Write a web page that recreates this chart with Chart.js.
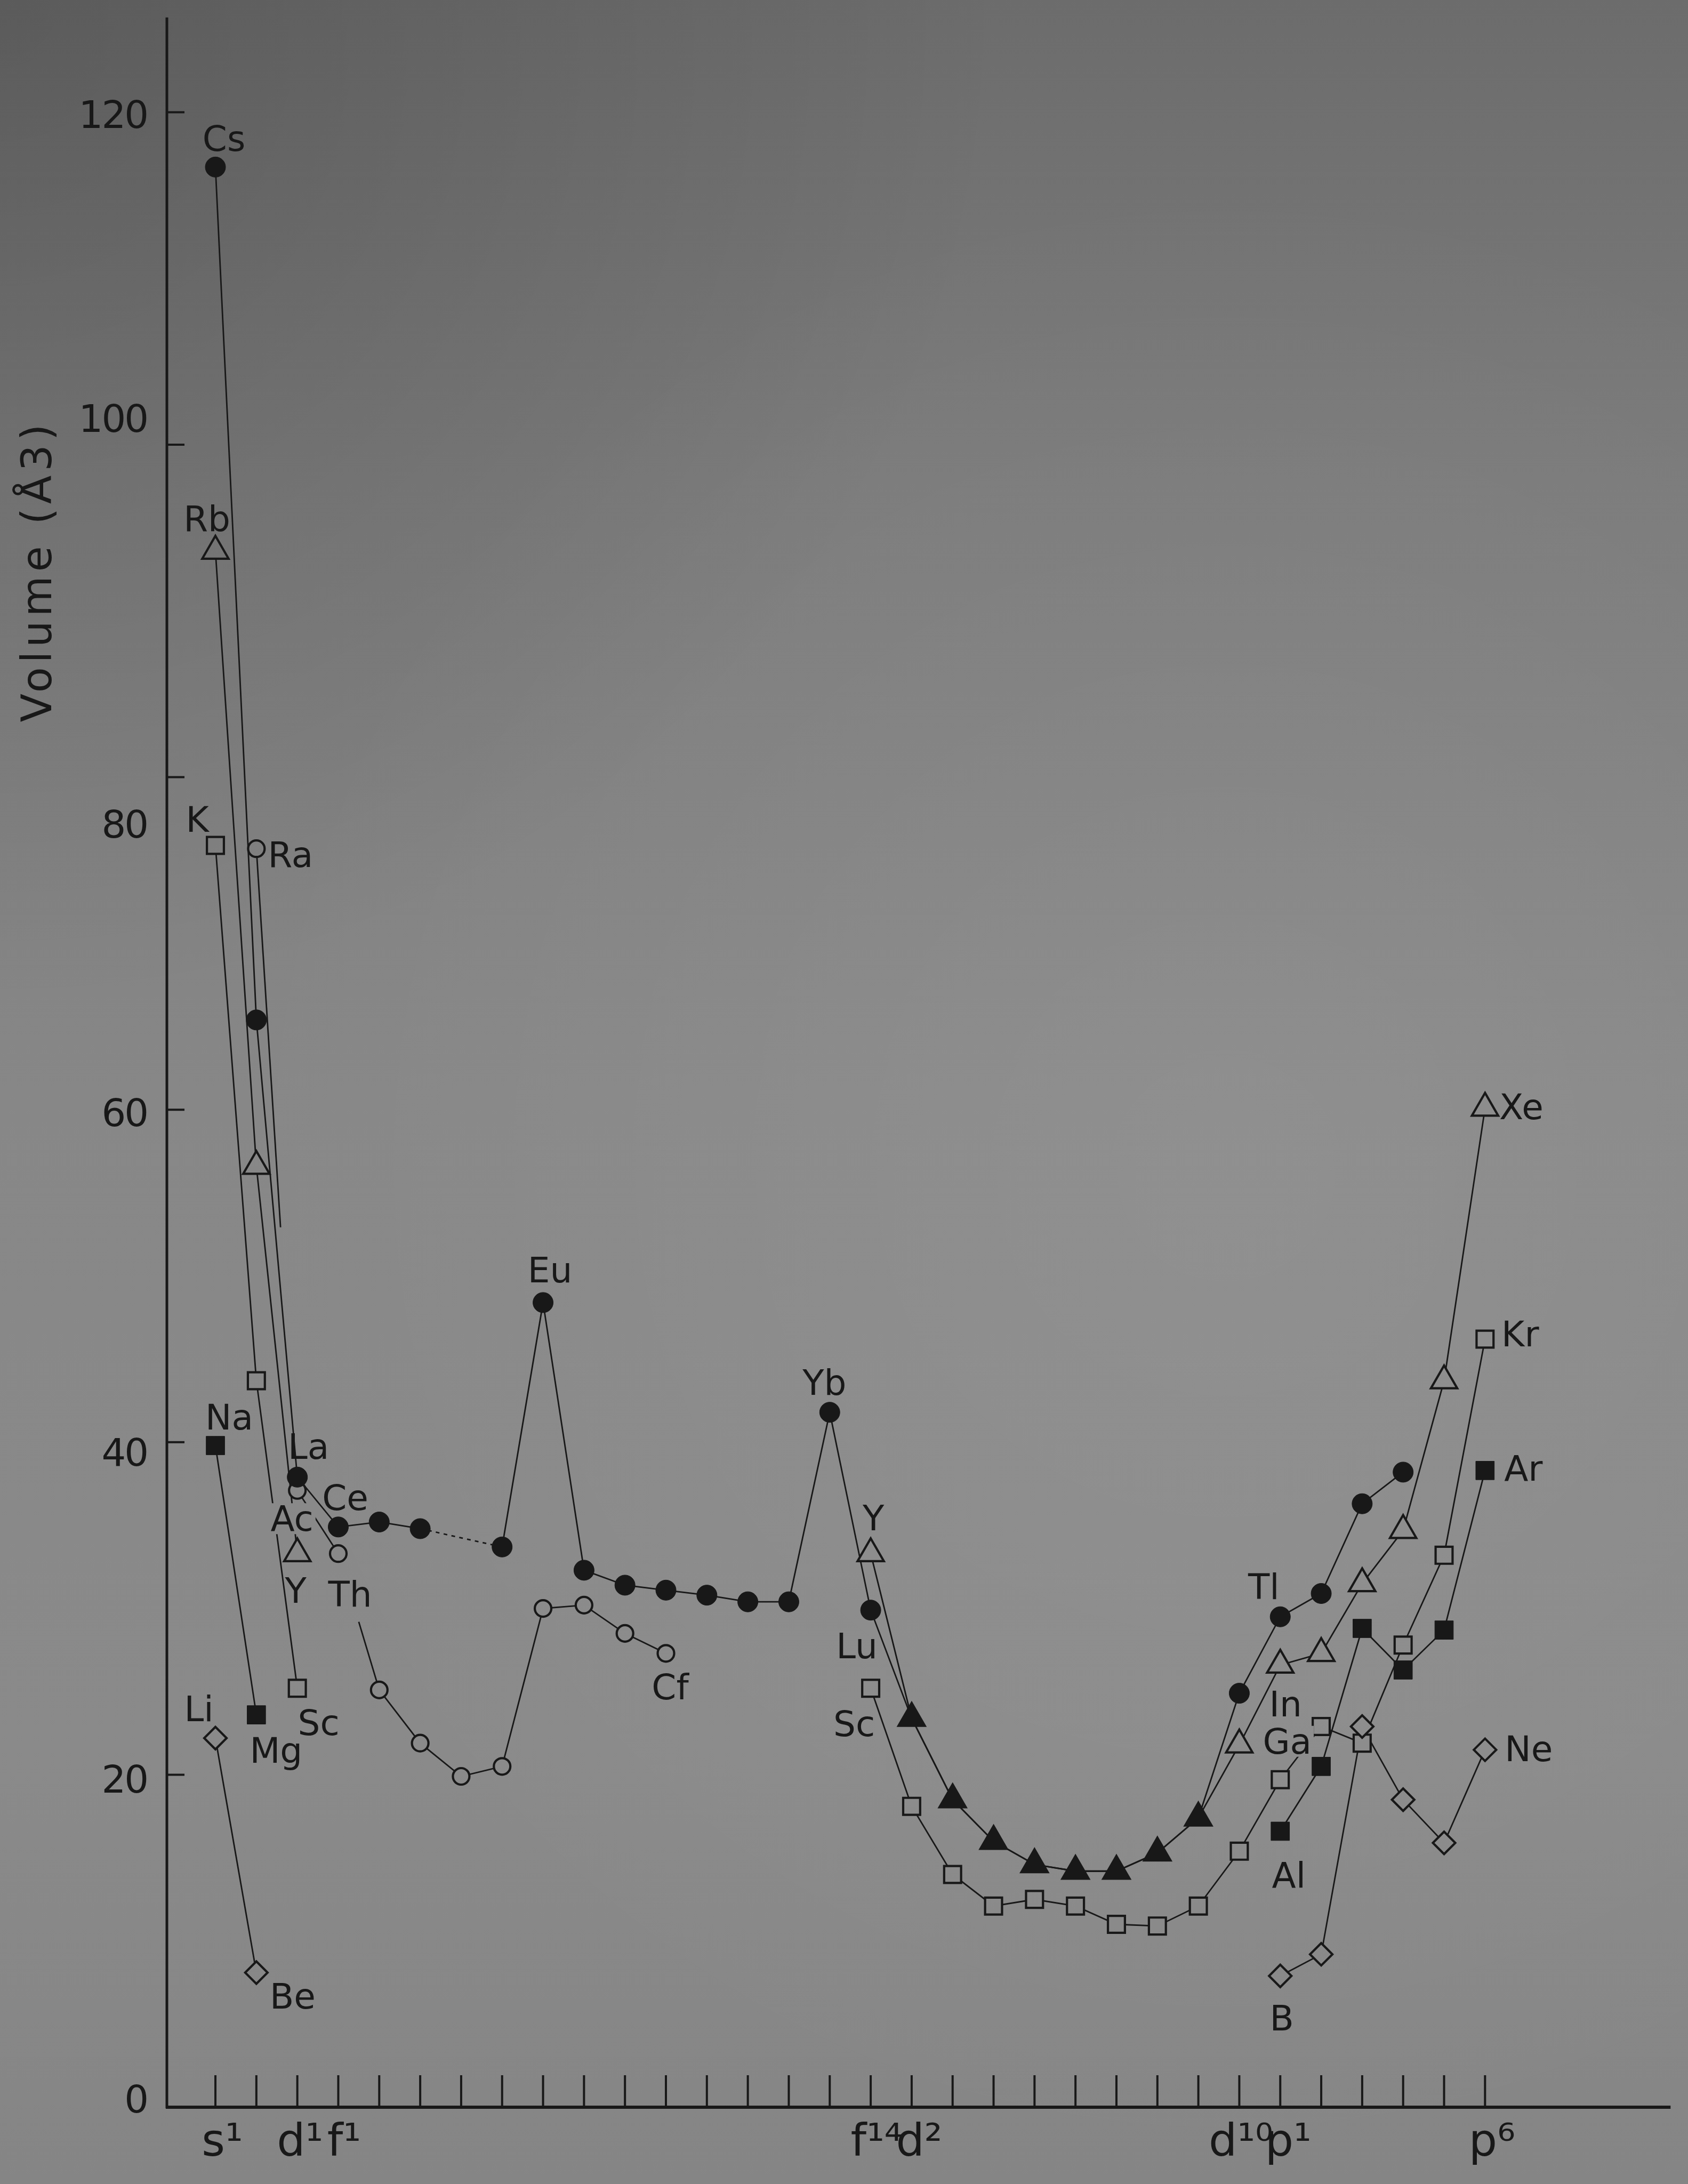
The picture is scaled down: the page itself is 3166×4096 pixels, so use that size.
<!DOCTYPE html>
<html>
<head>
<meta charset="utf-8">
<title>Atomic volume vs. configuration</title>
<script src="https://cdn.jsdelivr.net/npm/chart.js@4.4.1/dist/chart.umd.min.js"></script>
<style>
  html, body { margin: 0; padding: 0; background: #808080; overflow: hidden; }
  #wrap { position: relative; width: 3166px; height: 4096px; }
  canvas { display: block; }
</style>
</head>
<body>
<div id="wrap"><canvas id="chart" width="3166" height="4096"></canvas></div>
<script>
// ---- data -------------------------------------------------------------
// Position along the configuration axis: 0 = s1, 2 = d1, 3 = f1, 16 = f14, 17 = d2, 25 = d10, 26 = p1, 31 = p6
const configIndex = [0, 1, 2, 3, 4, 5, 6, 7, 8, 9, 10, 11, 12, 13, 14, 15,
                     16, 17, 18, 19, 20, 21, 22, 23, 24, 25, 26, 27, 28, 29, 30, 31];

// Atomic volumes (Å3), one array per period, null where a period has no element
const period2 = [22.2, 8.1, null, null, null, null, null, null, null, null, null, null, null, null, null, null,
                 null, null, null, null, null, null, null, null, null, null, 7.9, 9.2, 22.9, 18.5, 15.9, 21.5];
const period3 = [39.8, 23.6, null, null, null, null, null, null, null, null, null, null, null, null, null, null,
                 null, null, null, null, null, null, null, null, null, null, 16.6, 20.5, 28.8, 26.3, 28.7, 38.3];
const period4 = [75.9, 43.7, 25.2, null, null, null, null, null, null, null, null, null, null, null, null, null,
                 25.2, 18.1, 14.0, 12.1, 12.5, 12.1, 11.0, 10.9, 12.1, 15.4, 19.7, 22.9, 21.9, 27.8, 33.2, 46.2];
const period5 = [93.6, 56.6, 33.3, null, null, null, null, null, null, null, null, null, null, null, null, null,
                 33.3, 23.4, 18.5, 16.0, 14.6, 14.2, 14.2, 15.3, 17.4, 21.8, 26.6, 27.3, 31.5, 34.7, 43.7, 60.1];
const period6 = [116.7, 65.4, 37.9, 34.9, 35.2, 34.8, null, 33.7, 48.4, 32.3, 31.4, 31.1, 30.8, 30.4, 30.4, 41.8,
                 29.9, 23.4, 18.5, 16.0, 14.6, 14.2, 14.2, 15.3, 17.4, 24.9, 29.5, 30.9, 36.3, 38.2, null, null];
const period7 = [null, 75.7, 37.1, 33.3, 25.1, 21.9, 19.9, 20.5, 30.0, 30.2, 28.5, 27.3, null, null, null, null,
                 null, null, null, null, null, null, null, null, null, null, null, null, null, null, null, null];

// Element labels: series, position index, text
const labelSeries = ['p6', 'p5', 'p4', 'p7', 'p3', 'p6', 'p6', 'p7', 'p5', 'p7', 'p2', 'p3', 'p4', 'p2',
                     'p6', 'p6', 'p5', 'p6', 'p4', 'p7', 'p6', 'p5', 'p4', 'p3', 'p2', 'p5', 'p4', 'p3', 'p2'];
const labelIndex  = [0, 0, 0, 1, 0, 2, 3, 2, 2, 3, 0, 1, 2, 1,
                     8, 15, 16, 16, 16, 11, 26, 26, 26, 26, 26, 31, 31, 31, 31];
const labelText   = ['Cs', 'Rb', 'K', 'Ra', 'Na', 'La', 'Ce', 'Ac', 'Y', 'Th', 'Li', 'Mg', 'Sc', 'Be',
                     'Eu', 'Yb', 'Y', 'Lu', 'Sc', 'Cf', 'Tl', 'In', 'Ga', 'Al', 'B', 'Xe', 'Kr', 'Ar', 'Ne'];

// Axis ticks
const yTickValues = [0, 20, 40, 60, 80, 100, 120];
const xTickLabelIndex = [0, 2, 3, 16, 17, 25, 26, 31];
const xTickLabelText  = ['s¹', 'd¹', 'f¹', 'f¹⁴', 'd²', 'd¹⁰', 'p¹', 'p⁶'];
const yTitle = 'Volume (Å3)';

// ---- styling ------------------------------------------------------------
const W = 3166, H = 4096;
const INK = '#181818';
const FONT = '"DejaVu Sans", "Noto Sans", sans-serif';

// label offsets from their point (px): [dx, dy]
const labelOffset = [[16,-54],[-16,-62],[-34,-49],[64,10],[26,-54],[21,-58],[13,-56],[-10,52],[-3,68],[22,75],
                     [-31,-56],[37,66],[40,64],[68,44],[13,-62],[-10,-57],[5,-68],[-26,66],[-31,66],[8,62],
                     [-31,-57],[10,72],[13,-73],[16,82],[3,78],[68,-3],[66,-10],[72,-5],[82,-3]];
const labelMasks = ['Ac', 'Ga'];           // labels painted over the lines behind them
const yTickLabelShift = [-16, 8, 18, 5, 87, -50, 4];
const xTickLabelShift = [5, -3, 3, 3, 6, -5, 7, 5];

// paper texture, used for the page and to fill hollow markers
function makePaper() {
  const c = document.createElement('canvas');
  c.width = W; c.height = H;
  const g = c.getContext('2d');
  const lg = g.createLinearGradient(0, 0, 0, H);
  lg.addColorStop(0, '#6c6c6c');
  lg.addColorStop(0.22, '#7b7b7b');
  lg.addColorStop(0.5, '#878787');
  lg.addColorStop(0.8, '#8a8a8a');
  lg.addColorStop(1, '#858585');
  g.fillStyle = lg; g.fillRect(0, 0, W, H);
  let rg = g.createRadialGradient(0, 0, 0, 0, 0, 1900);
  rg.addColorStop(0, 'rgba(0,0,0,0.16)');
  rg.addColorStop(1, 'rgba(0,0,0,0)');
  g.fillStyle = rg; g.fillRect(0, 0, W, H);
  rg = g.createRadialGradient(2300, 2200, 0, 2300, 2200, 1900);
  rg.addColorStop(0, 'rgba(255,255,255,0.07)');
  rg.addColorStop(1, 'rgba(255,255,255,0)');
  g.fillStyle = rg; g.fillRect(0, 0, W, H);
  return c;
}
const paper = makePaper();
const canvas = document.getElementById('chart');
const ctx0 = canvas.getContext('2d');
const paperFill = ctx0.createPattern(paper, 'no-repeat');

const series = { p2: period2, p3: period3, p4: period4, p5: period5, p6: period6, p7: period7 };
const toPoints = arr => configIndex.map((x, i) => ({ x: x, y: arr[i] }));

const markerStyle = {
  p2: { pointStyle: 'rectRot',  radius: 21,   filled: false },
  p3: { pointStyle: 'rect',     radius: 24.5, filled: true  },
  p4: { pointStyle: 'rect',     radius: 22.5, filled: false },
  p5: { pointStyle: 'triangle', radius: 28.5, filled: false },
  p6: { pointStyle: 'circle',   radius: 19,   filled: true  },
  p7: { pointStyle: 'circle',   radius: 15.5, filled: false }
};

// segments partly interrupted in the drawing
function segLen(c) { return Math.hypot(c.p1.x - c.p0.x, c.p1.y - c.p0.y); }
const segmentStyles = {
  p6: { borderDash: c => (c.p0.skip || c.p1.skip) ? [7, 8] : undefined },
  p7: { borderDash: c => {
          if (c.p0DataIndex === 1) { const L = segLen(c); return [L * 0.59, L * 2]; }
          if (c.p0DataIndex === 3) { const L = segLen(c); return [0, L * 0.5, L * 2, 0]; }
          return undefined;
        } }
};

const datasets = [];
Object.keys(series).forEach(key => {
  // connecting lines
  datasets.push({
    label: key + ' line',
    data: toPoints(series[key]),
    borderColor: INK,
    borderWidth: 2.8,
    pointRadius: 0,
    spanGaps: key === 'p6',
    segment: segmentStyles[key] || {},
    order: 2,
    clip: false
  });
});
Object.keys(series).forEach(key => {
  const st = markerStyle[key];
  const arr = series[key];
  let fill = st.filled ? INK : paperFill;
  let radius = st.radius;
  if (key === 'p5') {
    // d-block points shared with period 6 are drawn solid
    fill = configIndex.map(i => (i >= 17 && i <= 24) ? INK : paperFill);
  }
  if (key === 'p6') {
    radius = configIndex.map(i => (i >= 17 && i <= 24) ? 0 : st.radius);
  }
  datasets.push({
    label: key + ' points',
    data: toPoints(arr),
    showLine: false,
    pointStyle: st.pointStyle,
    pointRadius: radius,
    pointBackgroundColor: fill,
    pointBorderColor: INK,
    pointBorderWidth: st.filled ? 1 : 4.2,
    order: 1,
    clip: false
  });
});

const decor = {
  id: 'decor',
  beforeDraw(chart) {
    chart.ctx.drawImage(paper, 0, 0);
  },
  beforeDatasetsDraw(chart) {
    const { ctx, chartArea: a, scales: { x, y } } = chart;
    ctx.save();
    ctx.strokeStyle = INK;
    ctx.lineCap = 'butt';
    // axes
    ctx.lineWidth = 5;
    ctx.beginPath(); ctx.moveTo(a.left, a.top); ctx.lineTo(a.left, a.bottom + 2); ctx.stroke();
    ctx.lineWidth = 6;
    ctx.beginPath(); ctx.moveTo(a.left - 2, a.bottom); ctx.lineTo(a.right, a.bottom); ctx.stroke();
    // tick marks, pointing into the plot
    ctx.lineWidth = 4;
    ctx.beginPath();
    yTickValues.forEach(v => {
      if (v === 0) return;
      const py = y.getPixelForValue(v);
      ctx.moveTo(a.left, py); ctx.lineTo(a.left + 33, py);
    });
    configIndex.forEach(v => {
      const px = x.getPixelForValue(v);
      ctx.moveTo(px, a.bottom); ctx.lineTo(px, a.bottom - 60);
    });
    ctx.stroke();
    // tick labels
    ctx.fillStyle = INK;
    ctx.font = '72px ' + FONT;
    ctx.textAlign = 'right';
    ctx.textBaseline = 'alphabetic';
    try { ctx.letterSpacing = '-3px'; } catch (e) {}
    yTickValues.forEach((v, i) => {
      const py = y.getPixelForValue(v) + yTickLabelShift[i];
      ctx.fillText(String(v), 276, py + 26);
    });
    try { ctx.letterSpacing = '0px'; } catch (e) {}
    ctx.font = '84px ' + FONT;
    ctx.textAlign = 'center';
    xTickLabelIndex.forEach((v, i) => {
      const px = x.getPixelForValue(v) + xTickLabelShift[i];
      ctx.fillText(xTickLabelText[i], px + 8, 4043);
    });
    // axis title
    ctx.save();
    ctx.translate(68, 1071);
    ctx.rotate(-Math.PI / 2);
    ctx.font = '78px ' + FONT;
    try { ctx.letterSpacing = '8px'; } catch (e) {}
    ctx.textAlign = 'center';
    ctx.fillText(yTitle, 0, 28);
    ctx.restore();
    ctx.restore();
  },
  afterDatasetsDraw(chart) {
    const { ctx, scales: { x, y } } = chart;
    ctx.save();
    ctx.font = '66px ' + FONT;
    ctx.textAlign = 'center';
    ctx.textBaseline = 'alphabetic';
    labelText.forEach((t, i) => {
      const v = series[labelSeries[i]][labelIndex[i]];
      const cx = x.getPixelForValue(labelIndex[i]) + labelOffset[i][0];
      const cy = y.getPixelForValue(v) + labelOffset[i][1];
      if (labelMasks.indexOf(t) >= 0) {
        const w = ctx.measureText(t).width;
        ctx.fillStyle = paperFill;
        ctx.fillRect(cx - w / 2 - 4, cy - 28, w + 8, 58);
      }
      ctx.fillStyle = INK;
      ctx.fillText(t, cx, cy + 24);
    });
    ctx.restore();
  }
};

new Chart(canvas, {
  type: 'line',
  data: { datasets: datasets },
  options: {
    responsive: false,
    animation: false,
    devicePixelRatio: 1,
    layout: { padding: { left: 313, top: 26, right: 10, bottom: 144 } },
    plugins: { legend: { display: false }, tooltip: { enabled: false } },
    elements: { line: { tension: 0 } },
    scales: {
      x: { type: 'linear', min: -1.185, max: 35.53, display: false },
      y: { type: 'linear', min: 0, max: 125.7, display: false }
    }
  },
  plugins: [decor]
});
</script>
</body>
</html>
